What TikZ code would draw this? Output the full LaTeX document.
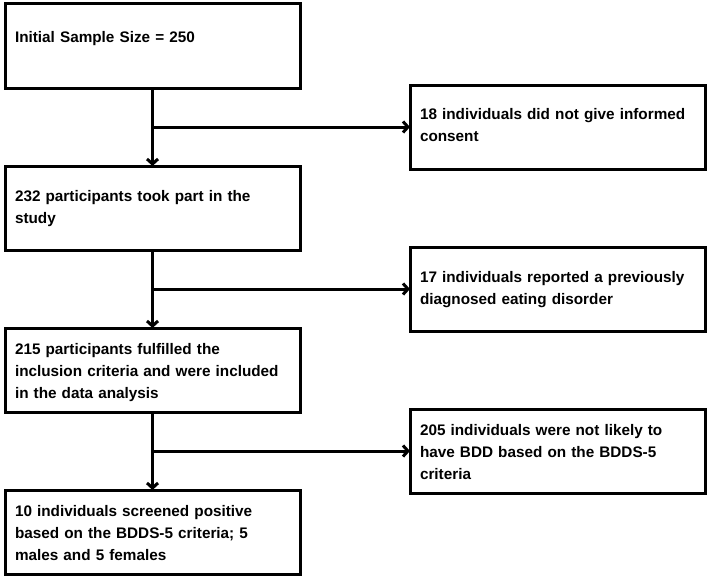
\documentclass[tikz,border=0pt]{standalone}
\usepackage{fontspec}
\setmainfont{Liberation Sans}
\usetikzlibrary{arrows.meta,positioning,calc}

\begin{document}
\begin{tikzpicture}[
    node distance=78pt and 110pt,
    box/.style={rectangle, draw=black, line width=3pt, text width=275pt, align=left,
        inner xsep=10pt, inner ysep=0pt, outer sep=0pt, minimum width=295pt,
        text height=#1, text depth=84pt-#1, font=\fontsize{15.3}{22}\selectfont\bfseries},
    flow/.style={line width=3pt, -{Straight Barb[length=5pt, width=11pt]}}
]
\useasboundingbox (0,0) rectangle (709pt,-578pt);

% main column
\node[box=39pt, anchor=north west] (init) at (5pt,-4pt) {Initial Sample Size = 250};
\node[box=35pt, below=of init] (took) {232 participants took part in the\\study};
\node[box=26pt, below=of took] (incl) {215 participants fulfilled the\\inclusion criteria and were included\\in the data analysis};
\node[box=26pt, below=of incl] (pos) {10 individuals screened positive\\based on the BDDS-5 criteria; 5\\males and 5 females};

% branch points
\coordinate (j1) at ($(init.south)!0.5!(took.north)$);
\coordinate (j2) at ($(took.south)!0.5!(incl.north)$);
\coordinate (j3) at ($(incl.south)!0.5!(pos.north)$);
\coordinate (e1) at (init.east |- j1);
\coordinate (e2) at (took.east |- j2);
\coordinate (e3) at (incl.east |- j3);

% excluded
\node[box=34pt, right=of e1] (consent) {18 individuals did not give informed\\consent};
\node[box=35pt, right=of e2] (eating) {17 individuals reported a previously\\diagnosed eating disorder};
\node[box=26pt, right=of e3] (neg) {205 individuals were not likely to\\have BDD based on the BDDS-5\\criteria};

\draw[flow] (init) -- (took);
\draw[flow] (took) -- (incl);
\draw[flow] (incl) -- (pos);

\draw[flow] (j1) -- (consent);
\draw[flow] (j2) -- (eating);
\draw[flow] (j3) -- (neg);

\end{tikzpicture}
\end{document}
